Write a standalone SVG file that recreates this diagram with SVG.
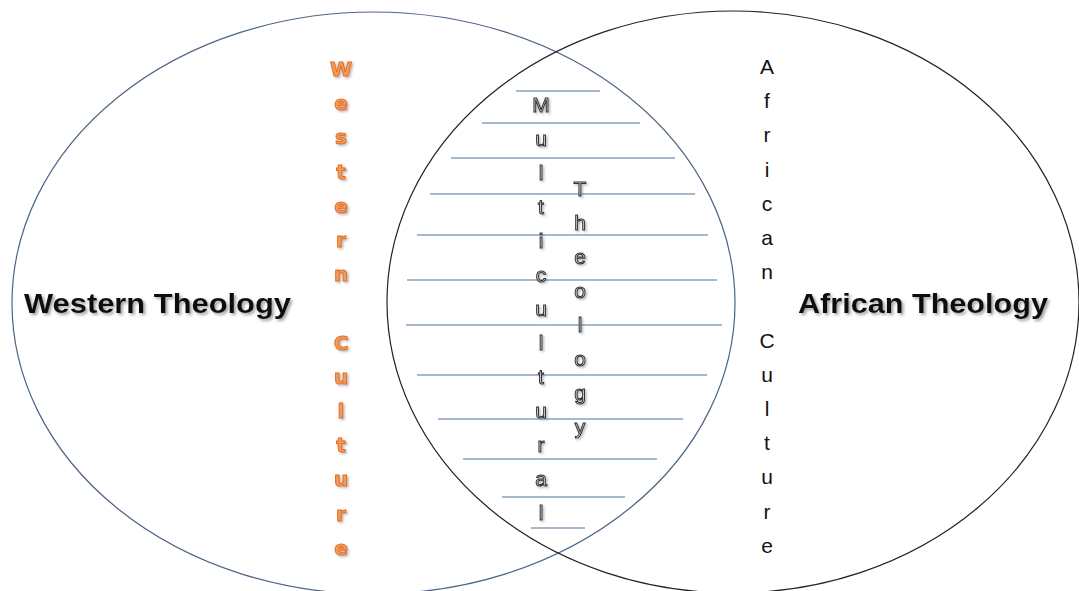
<svg xmlns="http://www.w3.org/2000/svg" width="1079" height="591" viewBox="0 0 1079 591">
<style>
.ell{fill:none;stroke-width:1.2}
.rule{stroke:#4f7298;stroke-width:1.2}
.title{font-family:"Liberation Sans",Arial,sans-serif;font-weight:bold;font-size:27px;fill:#111}
.wc{font-family:"DejaVu Sans",Verdana,sans-serif;font-weight:bold;font-size:20px;fill:#f39a5c;stroke:#e5701c;stroke-width:1;text-anchor:middle}
.ac{font-family:"Liberation Sans",Arial,sans-serif;font-size:21px;fill:#111;text-anchor:middle}
.mc{font-family:"Liberation Sans",Arial,sans-serif;font-size:21px;fill:#d4d4d4;stroke:#333;stroke-width:1;text-anchor:middle}
</style>
<defs>
<filter id="sh" x="-10%" y="-30%" width="120%" height="160%">
<feDropShadow dx="2" dy="2" stdDeviation="1.5" flood-color="#777" flood-opacity="0.7"/>
</filter>
<filter id="sh2" x="-50%" y="-10%" width="200%" height="120%">
<feDropShadow dx="1.5" dy="1.5" stdDeviation="1" flood-color="#888" flood-opacity="0.6"/>
</filter>
</defs>
<rect width="1079" height="591" fill="#fff"/>
<g id="western">
<ellipse class="ell" cx="373.5" cy="303" rx="361.5" ry="291" stroke="#4d6585"/>
<text class="title" x="24" y="313" textLength="267" lengthAdjust="spacingAndGlyphs" filter="url(#sh)">Western Theology</text>
<text class="wc" filter="url(#sh2)"><tspan x="341" y="76">W</tspan><tspan x="341" dy="34.2">e</tspan><tspan x="341" dy="34.2">s</tspan><tspan x="341" dy="34.2">t</tspan><tspan x="341" dy="34.2">e</tspan><tspan x="341" dy="34.2">r</tspan><tspan x="341" dy="34.2">n</tspan><tspan x="341" dy="68.4">C</tspan><tspan x="341" dy="34.2">u</tspan><tspan x="341" dy="34.2">l</tspan><tspan x="341" dy="34.2">t</tspan><tspan x="341" dy="34.2">u</tspan><tspan x="341" dy="34.2">r</tspan><tspan x="341" dy="34.2">e</tspan></text>
</g>
<g id="african">
<ellipse class="ell" cx="733" cy="302" rx="346" ry="291" stroke="#222"/>
<text class="title" x="798" y="313" textLength="250" lengthAdjust="spacingAndGlyphs" filter="url(#sh)">African Theology</text>
<text class="ac"><tspan x="767" y="74">A</tspan><tspan x="767" dy="34.2">f</tspan><tspan x="767" dy="34.2">r</tspan><tspan x="767" dy="34.2">i</tspan><tspan x="767" dy="34.2">c</tspan><tspan x="767" dy="34.2">a</tspan><tspan x="767" dy="34.2">n</tspan><tspan x="767" dy="68.4">C</tspan><tspan x="767" dy="34.2">u</tspan><tspan x="767" dy="34.2">l</tspan><tspan x="767" dy="34.2">t</tspan><tspan x="767" dy="34.2">u</tspan><tspan x="767" dy="34.2">r</tspan><tspan x="767" dy="34.2">e</tspan></text>
</g>
<g id="overlap">
<g id="rules">
<line class="rule" x1="516" y1="91" x2="600" y2="91"/>
<line class="rule" x1="482" y1="123" x2="640" y2="123"/>
<line class="rule" x1="451" y1="158" x2="675" y2="158"/>
<line class="rule" x1="430" y1="194" x2="695" y2="194"/>
<line class="rule" x1="417" y1="235" x2="708" y2="235"/>
<line class="rule" x1="407" y1="280" x2="717" y2="280"/>
<line class="rule" x1="406" y1="325" x2="722" y2="325"/>
<line class="rule" x1="417" y1="375" x2="707" y2="375"/>
<line class="rule" x1="438" y1="419" x2="683" y2="419"/>
<line class="rule" x1="463" y1="459" x2="657" y2="459"/>
<line class="rule" x1="502" y1="497" x2="625" y2="497"/>
<line class="rule" x1="531" y1="528" x2="585" y2="528"/>
</g>
<text class="mc" filter="url(#sh2)"><tspan x="541" y="112">M</tspan><tspan x="541" dy="34">u</tspan><tspan x="541" dy="34">l</tspan><tspan x="541" dy="34">t</tspan><tspan x="541" dy="34">i</tspan><tspan x="541" dy="34">c</tspan><tspan x="541" dy="34">u</tspan><tspan x="541" dy="34">l</tspan><tspan x="541" dy="34">t</tspan><tspan x="541" dy="34">u</tspan><tspan x="541" dy="34">r</tspan><tspan x="541" dy="34">a</tspan><tspan x="541" dy="34">l</tspan></text>
<text class="mc" filter="url(#sh2)"><tspan x="580" y="196">T</tspan><tspan x="580" dy="34">h</tspan><tspan x="580" dy="34">e</tspan><tspan x="580" dy="34">o</tspan><tspan x="580" dy="34">l</tspan><tspan x="580" dy="34">o</tspan><tspan x="580" dy="34">g</tspan><tspan x="580" dy="34">y</tspan></text>
</g>
</svg>
